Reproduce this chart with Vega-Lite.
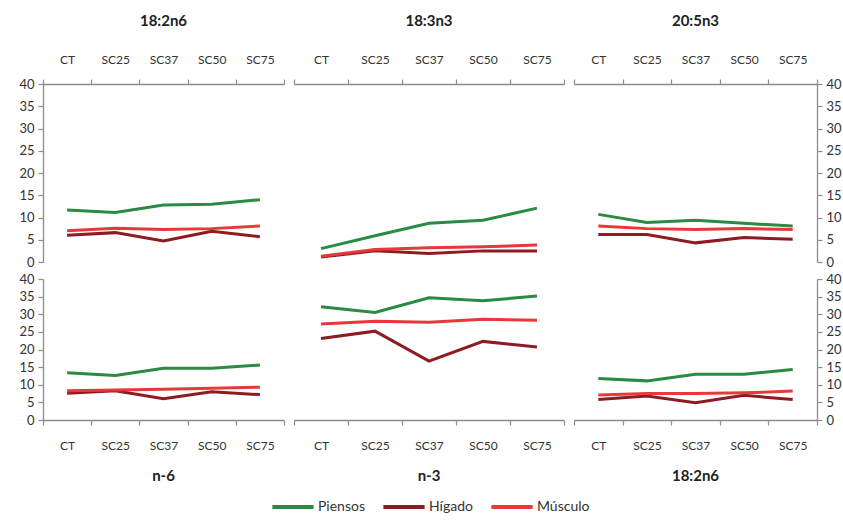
{
  "$schema": "https://vega.github.io/schema/vega-lite/v6.json",
  "padding": {"left": 18, "top": 14, "right": 1, "bottom": 2},
  "bounds": "flush",
  "columns": 3,
  "spacing": {"row": 17, "column": 10},
  "data": {"values": [
    {"panel": "A", "grupo": "CT", "tejido": "Piensos", "valor": 11.7},
    {"panel": "A", "grupo": "SC25", "tejido": "Piensos", "valor": 11.1},
    {"panel": "A", "grupo": "SC37", "tejido": "Piensos", "valor": 12.8},
    {"panel": "A", "grupo": "SC50", "tejido": "Piensos", "valor": 13.0},
    {"panel": "A", "grupo": "SC75", "tejido": "Piensos", "valor": 14.0},
    {"panel": "A", "grupo": "CT", "tejido": "Hígado", "valor": 6.0},
    {"panel": "A", "grupo": "SC25", "tejido": "Hígado", "valor": 6.6},
    {"panel": "A", "grupo": "SC37", "tejido": "Hígado", "valor": 4.7},
    {"panel": "A", "grupo": "SC50", "tejido": "Hígado", "valor": 6.9},
    {"panel": "A", "grupo": "SC75", "tejido": "Hígado", "valor": 5.7},
    {"panel": "A", "grupo": "CT", "tejido": "Músculo", "valor": 7.0},
    {"panel": "A", "grupo": "SC25", "tejido": "Músculo", "valor": 7.6},
    {"panel": "A", "grupo": "SC37", "tejido": "Músculo", "valor": 7.3},
    {"panel": "A", "grupo": "SC50", "tejido": "Músculo", "valor": 7.5},
    {"panel": "A", "grupo": "SC75", "tejido": "Músculo", "valor": 8.1},
    {"panel": "B", "grupo": "CT", "tejido": "Piensos", "valor": 3.0},
    {"panel": "B", "grupo": "SC25", "tejido": "Piensos", "valor": 5.9},
    {"panel": "B", "grupo": "SC37", "tejido": "Piensos", "valor": 8.7},
    {"panel": "B", "grupo": "SC50", "tejido": "Piensos", "valor": 9.4},
    {"panel": "B", "grupo": "SC75", "tejido": "Piensos", "valor": 12.1},
    {"panel": "B", "grupo": "CT", "tejido": "Hígado", "valor": 1.1},
    {"panel": "B", "grupo": "SC25", "tejido": "Hígado", "valor": 2.5},
    {"panel": "B", "grupo": "SC37", "tejido": "Hígado", "valor": 1.9},
    {"panel": "B", "grupo": "SC50", "tejido": "Hígado", "valor": 2.5},
    {"panel": "B", "grupo": "SC75", "tejido": "Hígado", "valor": 2.5},
    {"panel": "B", "grupo": "CT", "tejido": "Músculo", "valor": 1.3},
    {"panel": "B", "grupo": "SC25", "tejido": "Músculo", "valor": 2.8},
    {"panel": "B", "grupo": "SC37", "tejido": "Músculo", "valor": 3.2},
    {"panel": "B", "grupo": "SC50", "tejido": "Músculo", "valor": 3.4},
    {"panel": "B", "grupo": "SC75", "tejido": "Músculo", "valor": 3.8},
    {"panel": "C", "grupo": "CT", "tejido": "Piensos", "valor": 10.7},
    {"panel": "C", "grupo": "SC25", "tejido": "Piensos", "valor": 8.9},
    {"panel": "C", "grupo": "SC37", "tejido": "Piensos", "valor": 9.4},
    {"panel": "C", "grupo": "SC50", "tejido": "Piensos", "valor": 8.7},
    {"panel": "C", "grupo": "SC75", "tejido": "Piensos", "valor": 8.1},
    {"panel": "C", "grupo": "CT", "tejido": "Hígado", "valor": 6.2},
    {"panel": "C", "grupo": "SC25", "tejido": "Hígado", "valor": 6.2},
    {"panel": "C", "grupo": "SC37", "tejido": "Hígado", "valor": 4.3},
    {"panel": "C", "grupo": "SC50", "tejido": "Hígado", "valor": 5.5},
    {"panel": "C", "grupo": "SC75", "tejido": "Hígado", "valor": 5.1},
    {"panel": "C", "grupo": "CT", "tejido": "Músculo", "valor": 8.1},
    {"panel": "C", "grupo": "SC25", "tejido": "Músculo", "valor": 7.5},
    {"panel": "C", "grupo": "SC37", "tejido": "Músculo", "valor": 7.3},
    {"panel": "C", "grupo": "SC50", "tejido": "Músculo", "valor": 7.5},
    {"panel": "C", "grupo": "SC75", "tejido": "Músculo", "valor": 7.3},
    {"panel": "D", "grupo": "CT", "tejido": "Piensos", "valor": 13.4},
    {"panel": "D", "grupo": "SC25", "tejido": "Piensos", "valor": 12.6},
    {"panel": "D", "grupo": "SC37", "tejido": "Piensos", "valor": 14.7},
    {"panel": "D", "grupo": "SC50", "tejido": "Piensos", "valor": 14.7},
    {"panel": "D", "grupo": "SC75", "tejido": "Piensos", "valor": 15.6},
    {"panel": "D", "grupo": "CT", "tejido": "Hígado", "valor": 7.6},
    {"panel": "D", "grupo": "SC25", "tejido": "Hígado", "valor": 8.3},
    {"panel": "D", "grupo": "SC37", "tejido": "Hígado", "valor": 6.0},
    {"panel": "D", "grupo": "SC50", "tejido": "Hígado", "valor": 8.0},
    {"panel": "D", "grupo": "SC75", "tejido": "Hígado", "valor": 7.2},
    {"panel": "D", "grupo": "CT", "tejido": "Músculo", "valor": 8.3},
    {"panel": "D", "grupo": "SC25", "tejido": "Músculo", "valor": 8.5},
    {"panel": "D", "grupo": "SC37", "tejido": "Músculo", "valor": 8.7},
    {"panel": "D", "grupo": "SC50", "tejido": "Músculo", "valor": 9.0},
    {"panel": "D", "grupo": "SC75", "tejido": "Músculo", "valor": 9.3},
    {"panel": "E", "grupo": "CT", "tejido": "Piensos", "valor": 32.1},
    {"panel": "E", "grupo": "SC25", "tejido": "Piensos", "valor": 30.5},
    {"panel": "E", "grupo": "SC37", "tejido": "Piensos", "valor": 34.7},
    {"panel": "E", "grupo": "SC50", "tejido": "Piensos", "valor": 33.8},
    {"panel": "E", "grupo": "SC75", "tejido": "Piensos", "valor": 35.2},
    {"panel": "E", "grupo": "CT", "tejido": "Hígado", "valor": 23.1},
    {"panel": "E", "grupo": "SC25", "tejido": "Hígado", "valor": 25.2},
    {"panel": "E", "grupo": "SC37", "tejido": "Hígado", "valor": 16.7},
    {"panel": "E", "grupo": "SC50", "tejido": "Hígado", "valor": 22.3},
    {"panel": "E", "grupo": "SC75", "tejido": "Hígado", "valor": 20.7},
    {"panel": "E", "grupo": "CT", "tejido": "Músculo", "valor": 27.2},
    {"panel": "E", "grupo": "SC25", "tejido": "Músculo", "valor": 28.0},
    {"panel": "E", "grupo": "SC37", "tejido": "Músculo", "valor": 27.7},
    {"panel": "E", "grupo": "SC50", "tejido": "Músculo", "valor": 28.6},
    {"panel": "E", "grupo": "SC75", "tejido": "Músculo", "valor": 28.3},
    {"panel": "F", "grupo": "CT", "tejido": "Piensos", "valor": 11.8},
    {"panel": "F", "grupo": "SC25", "tejido": "Piensos", "valor": 11.1},
    {"panel": "F", "grupo": "SC37", "tejido": "Piensos", "valor": 13.0},
    {"panel": "F", "grupo": "SC50", "tejido": "Piensos", "valor": 13.0},
    {"panel": "F", "grupo": "SC75", "tejido": "Piensos", "valor": 14.3},
    {"panel": "F", "grupo": "CT", "tejido": "Hígado", "valor": 5.8},
    {"panel": "F", "grupo": "SC25", "tejido": "Hígado", "valor": 6.8},
    {"panel": "F", "grupo": "SC37", "tejido": "Hígado", "valor": 4.9},
    {"panel": "F", "grupo": "SC50", "tejido": "Hígado", "valor": 7.0},
    {"panel": "F", "grupo": "SC75", "tejido": "Hígado", "valor": 5.8},
    {"panel": "F", "grupo": "CT", "tejido": "Músculo", "valor": 7.1},
    {"panel": "F", "grupo": "SC25", "tejido": "Músculo", "valor": 7.5},
    {"panel": "F", "grupo": "SC37", "tejido": "Músculo", "valor": 7.5},
    {"panel": "F", "grupo": "SC50", "tejido": "Músculo", "valor": 7.7},
    {"panel": "F", "grupo": "SC75", "tejido": "Músculo", "valor": 8.2}
  ]},
  "concat": [
    {
      "width": 241, "height": 178,
      "title": {"text": "18:2n6", "orient": "top", "offset": 24},
      "transform": [{"filter": "datum.panel == 'A'"}],
      "mark": {"type": "line", "strokeWidth": 3},
      "encoding": {
        "x": {"field": "grupo", "type": "nominal", "sort": ["CT", "SC25", "SC37", "SC50", "SC75"], "bandPosition": 0.5,
              "scale": {"type": "band", "paddingInner": 0, "paddingOuter": 0},
              "axis": {"orient": "top", "title": null, "labelAngle": 0, "tickBand": "extent", "labelPadding": 13, "labelFontSize": 12}},
        "y": {"field": "valor", "type": "quantitative", "scale": {"domain": [0, 40], "nice": false},
              "axis": {"orient": "left", "title": null, "values": [0, 5, 10, 15, 20, 25, 30, 35, 40], "labelPadding": 4, "labelFontSize": 13}},
        "color": {"field": "tejido", "type": "nominal", "scale": {"domain": ["Piensos", "Hígado", "Músculo"], "range": ["#2b8a43", "#8e1b22", "#e8393a"]},
                  "legend": {"title": null}}
      }
    },
    {
      "width": 270, "height": 178,
      "title": {"text": "18:3n3", "orient": "top", "offset": 24},
      "transform": [{"filter": "datum.panel == 'B'"}],
      "mark": {"type": "line", "strokeWidth": 3},
      "encoding": {
        "x": {"field": "grupo", "type": "nominal", "sort": ["CT", "SC25", "SC37", "SC50", "SC75"], "bandPosition": 0.5,
              "scale": {"type": "band", "paddingInner": 0, "paddingOuter": 0},
              "axis": {"orient": "top", "title": null, "labelAngle": 0, "tickBand": "extent", "labelPadding": 13, "labelFontSize": 12}},
        "y": {"field": "valor", "type": "quantitative", "scale": {"domain": [0, 40], "nice": false}, "axis": null},
        "color": {"field": "tejido", "type": "nominal", "scale": {"domain": ["Piensos", "Hígado", "Músculo"], "range": ["#2b8a43", "#8e1b22", "#e8393a"]},
                  "legend": {"title": null}}
      }
    },
    {
      "width": 243, "height": 178,
      "title": {"text": "20:5n3", "orient": "top", "offset": 24},
      "transform": [{"filter": "datum.panel == 'C'"}],
      "mark": {"type": "line", "strokeWidth": 3},
      "encoding": {
        "x": {"field": "grupo", "type": "nominal", "sort": ["CT", "SC25", "SC37", "SC50", "SC75"], "bandPosition": 0.5,
              "scale": {"type": "band", "paddingInner": 0, "paddingOuter": 0},
              "axis": {"orient": "top", "title": null, "labelAngle": 0, "tickBand": "extent", "labelPadding": 13, "labelFontSize": 12}},
        "y": {"field": "valor", "type": "quantitative", "scale": {"domain": [0, 40], "nice": false},
              "axis": {"orient": "right", "title": null, "values": [0, 5, 10, 15, 20, 25, 30, 35, 40], "labelPadding": 4, "labelFontSize": 13}},
        "color": {"field": "tejido", "type": "nominal", "scale": {"domain": ["Piensos", "Hígado", "Músculo"], "range": ["#2b8a43", "#8e1b22", "#e8393a"]},
                  "legend": {"title": null}}
      }
    },
    {
      "width": 241, "height": 141,
      "title": {"text": "n-6", "orient": "bottom", "offset": 18},
      "transform": [{"filter": "datum.panel == 'D'"}],
      "mark": {"type": "line", "strokeWidth": 3},
      "encoding": {
        "x": {"field": "grupo", "type": "nominal", "sort": ["CT", "SC25", "SC37", "SC50", "SC75"], "bandPosition": 0.5,
              "scale": {"type": "band", "paddingInner": 0, "paddingOuter": 0},
              "axis": {"orient": "bottom", "title": null, "labelAngle": 0, "tickBand": "extent", "labelPadding": 15, "labelFontSize": 12}},
        "y": {"field": "valor", "type": "quantitative", "scale": {"domain": [0, 40], "nice": false},
              "axis": {"orient": "left", "title": null, "values": [0, 5, 10, 15, 20, 25, 30, 35, 40], "labelPadding": 4, "labelFontSize": 13}},
        "color": {"field": "tejido", "type": "nominal", "scale": {"domain": ["Piensos", "Hígado", "Músculo"], "range": ["#2b8a43", "#8e1b22", "#e8393a"]},
                  "legend": {"title": null}}
      }
    },
    {
      "width": 270, "height": 141,
      "title": {"text": "n-3", "orient": "bottom", "offset": 18},
      "transform": [{"filter": "datum.panel == 'E'"}],
      "mark": {"type": "line", "strokeWidth": 3},
      "encoding": {
        "x": {"field": "grupo", "type": "nominal", "sort": ["CT", "SC25", "SC37", "SC50", "SC75"], "bandPosition": 0.5,
              "scale": {"type": "band", "paddingInner": 0, "paddingOuter": 0},
              "axis": {"orient": "bottom", "title": null, "labelAngle": 0, "tickBand": "extent", "labelPadding": 15, "labelFontSize": 12}},
        "y": {"field": "valor", "type": "quantitative", "scale": {"domain": [0, 40], "nice": false}, "axis": null},
        "color": {"field": "tejido", "type": "nominal", "scale": {"domain": ["Piensos", "Hígado", "Músculo"], "range": ["#2b8a43", "#8e1b22", "#e8393a"]},
                  "legend": {"title": null}}
      }
    },
    {
      "width": 243, "height": 141,
      "title": {"text": "18:2n6", "orient": "bottom", "offset": 18},
      "transform": [{"filter": "datum.panel == 'F'"}],
      "mark": {"type": "line", "strokeWidth": 3},
      "encoding": {
        "x": {"field": "grupo", "type": "nominal", "sort": ["CT", "SC25", "SC37", "SC50", "SC75"], "bandPosition": 0.5,
              "scale": {"type": "band", "paddingInner": 0, "paddingOuter": 0},
              "axis": {"orient": "bottom", "title": null, "labelAngle": 0, "tickBand": "extent", "labelPadding": 15, "labelFontSize": 12}},
        "y": {"field": "valor", "type": "quantitative", "scale": {"domain": [0, 40], "nice": false},
              "axis": {"orient": "right", "title": null, "values": [0, 5, 10, 15, 20, 25, 30, 35, 40], "labelPadding": 4, "labelFontSize": 13}},
        "color": {"field": "tejido", "type": "nominal", "scale": {"domain": ["Piensos", "Hígado", "Músculo"], "range": ["#2b8a43", "#8e1b22", "#e8393a"]},
                  "legend": {"title": null}}
      }
    }
  ],
  "resolve": {"scale": {"color": "shared"}, "legend": {"color": "shared"}},
  "config": {
    "view": {"stroke": null},
    "font": "Lato",
    "axis": {"grid": false, "domainColor": "#8c8c8c", "tickColor": "#8c8c8c", "domainWidth": 1.3, "tickWidth": 1.2, "tickSize": 5,
             "labelColor": "#333333", "labelFont": "Lato"},
    "title": {"font": "Lato", "fontSize": 15, "fontWeight": "bold", "color": "#222222", "anchor": "middle"},
    "legend": {"orient": "bottom", "direction": "horizontal", "symbolType": "stroke", "symbolStrokeWidth": 4, "symbolSize": 1700,
               "labelFont": "Lato", "labelFontSize": 14, "labelColor": "#333333", "labelOffset": 2, "columnPadding": 10, "offset": 0,
               "layout": {"bottom": {"anchor": "middle"}}}
  }
}
